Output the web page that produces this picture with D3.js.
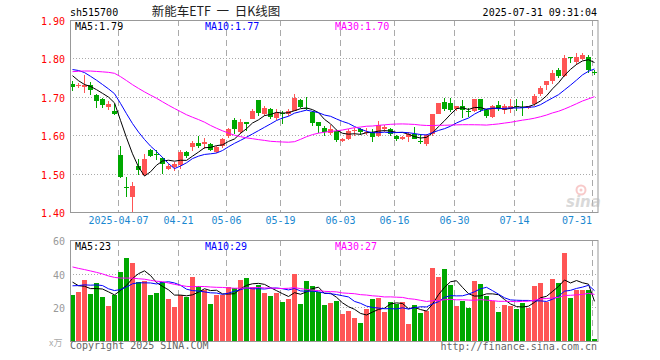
<!DOCTYPE html>
<html><head><meta charset="utf-8">
<script src="https://cdn.jsdelivr.net/npm/d3@7"></script>
<style>
body{margin:0;background:#fff}
svg{display:block}
text{font-family:"DejaVu Sans Mono","Liberation Mono",monospace;font-size:10px}
</style>
</head><body>
<script>
// ---------- DATA ----------
const dates = ["03-25","03-26","03-27","03-28","03-31","04-01","04-02","04-03",
"04-07","04-08","04-09","04-10","04-11","04-14","04-15","04-16","04-17","04-18",
"04-21","04-22","04-23","04-24","04-25","04-28","04-29","04-30",
"05-06","05-07","05-08","05-09","05-12","05-13","05-14","05-15","05-16",
"05-19","05-20","05-21","05-22","05-23","05-26","05-27","05-28","05-29","05-30",
"06-03","06-04","06-05","06-06","06-09","06-10","06-11","06-12","06-13",
"06-16","06-17","06-18","06-19","06-20","06-23","06-24","06-25","06-26","06-27",
"06-30","07-01","07-02","07-03","07-04","07-07","07-08","07-09","07-10","07-11",
"07-14","07-15","07-16","07-17","07-18","07-21","07-22","07-23","07-24","07-25",
"07-28","07-29","07-30","07-31"];

const open = [1.734,1.727,1.726,1.730,1.704,1.695,1.674,1.664,1.548,1.464,
1.439,1.519,1.496,1.561,1.551,1.540,1.512,1.516,1.522,1.557,
1.569,1.580,1.577,1.578,1.556,1.572,1.598,1.639,1.608,1.634,
1.643,1.691,1.654,1.667,1.644,1.658,1.654,1.664,1.691,1.670,
1.661,1.634,1.620,1.605,1.611,1.584,1.590,1.611,1.615,1.607,
1.609,1.597,1.615,1.615,1.598,1.590,1.596,1.602,1.584,1.576,
1.602,1.656,1.686,1.685,1.667,1.675,1.663,1.663,1.693,1.665,
1.648,1.678,1.665,1.667,1.676,1.674,1.672,1.680,1.708,1.732,
1.740,1.769,1.754,1.803,1.790,1.799,1.804,1.765];
const high = [1.740,1.735,1.757,1.738,1.708,1.698,1.689,1.681,1.572,1.490,
1.478,1.538,1.551,1.564,1.561,1.543,1.525,1.530,1.561,1.559,
1.585,1.597,1.592,1.580,1.573,1.593,1.619,1.645,1.643,1.634,
1.669,1.691,1.676,1.671,1.669,1.663,1.667,1.706,1.695,1.700,
1.663,1.634,1.624,1.627,1.614,1.593,1.616,1.620,1.618,1.619,
1.617,1.638,1.626,1.620,1.600,1.597,1.609,1.621,1.604,1.603,
1.656,1.685,1.698,1.698,1.677,1.691,1.671,1.695,1.693,1.667,
1.679,1.690,1.680,1.693,1.695,1.688,1.677,1.706,1.728,1.741,
1.770,1.776,1.809,1.804,1.815,1.815,1.810,1.770];
const low = [1.714,1.722,1.709,1.705,1.672,1.672,1.666,1.653,1.489,1.439,
1.400,1.497,1.494,1.543,1.535,1.499,1.509,1.507,1.512,1.541,
1.560,1.566,1.563,1.558,1.554,1.567,1.593,1.602,1.602,1.612,
1.641,1.650,1.650,1.643,1.639,1.628,1.650,1.663,1.672,1.665,
1.624,1.606,1.599,1.601,1.583,1.581,1.588,1.597,1.600,1.600,
1.583,1.596,1.609,1.597,1.585,1.587,1.583,1.589,1.577,1.572,
1.598,1.654,1.664,1.660,1.664,1.645,1.648,1.660,1.660,1.645,
1.645,1.663,1.654,1.657,1.663,1.651,1.669,1.677,1.703,1.719,
1.734,1.750,1.752,1.789,1.784,1.797,1.763,1.758];
const close = [1.726,1.730,1.731,1.718,1.688,1.678,1.681,1.656,1.490,1.462,
1.469,1.509,1.538,1.545,1.548,1.524,1.519,1.526,1.557,1.546,
1.579,1.572,1.583,1.561,1.569,1.589,1.617,1.615,1.634,1.629,
1.664,1.658,1.670,1.648,1.658,1.654,1.663,1.696,1.674,1.668,
1.632,1.624,1.608,1.616,1.588,1.589,1.612,1.614,1.608,1.609,
1.596,1.626,1.621,1.602,1.591,1.596,1.602,1.591,1.583,1.600,
1.654,1.684,1.667,1.666,1.675,1.665,1.662,1.693,1.665,1.651,
1.677,1.669,1.676,1.676,1.673,1.672,1.676,1.703,1.722,1.740,
1.763,1.754,1.800,1.800,1.804,1.809,1.770,1.763];
// volume, 万手
const volume = [27.6,29.2,36.4,28,34.6,26.2,20.8,27.4,41.2,49.6,
46.6,35.2,35.8,27.4,28.6,35.2,25,20.2,27.4,26.4,
38.2,32.8,30.4,22,27.4,27.4,32.2,31.6,36.4,37.6,
32.2,33.4,28.6,26.8,28.6,23.2,25,40,22,35.8,
32.8,29.2,21.4,22.7,23.8,16.2,17.8,13.6,10.6,19,
25,25.6,17.2,23.2,22.2,23.2,10,21.4,16.6,17.8,
43.6,38.2,43,33.4,20.8,23.8,19.6,35.8,34,26.8,
23.8,17.2,21.4,20.8,19,22.6,19.6,32.8,34.5,23.2,
37,34.6,52,25.6,30.4,30.4,30.4,1];
// estimated sessions before the visible window (feed the moving averages)
const priorClose = [1.70,1.71,1.72,1.72,1.71,1.72,1.73,
1.75,1.77,1.79,1.80,1.81,1.80,1.79,1.80,1.79,1.78,1.80,1.79,1.774,
1.755,1.785,1.815,1.79,1.79,1.795,1.781,1.743,1.730];
const priorVolume = [55,58,52,60,54,57,53,52.8,
50,48,46,44,47,45,43,48,46,44,45,44.2,
28,32,30,33,30,40,38,35,34.4];

const priceTicks = [1.40,1.50,1.60,1.70,1.80,1.90];
const volumeTicks = [20,40,60];
const tickDates = ["04-07","04-21","05-06","05-19","06-03","06-16","06-30","07-14","07-31"];
const tickLabels = ["2025-04-07","04-21","05-06","05-19","06-03","06-16","06-30","07-14","07-31"];
const maPeriods = [5,10,30];
const maColors = ["#000000","#0000ff","#ff00ff"];

// ---------- CHART ----------
const W = 660, H = 360;
const L = 70, R = 598;
const RED = "#ff5555", GREEN = "#00a800", GRID = "#aaaaaa", BORDER = "#999999";

const svg = d3.select("body").append("svg").attr("width", W).attr("height", H);

const x = d3.scaleBand().domain(dates).range([L - 0.5, R - 0.5])
  .paddingInner(1/6).paddingOuter(1/12);
const bw = x.bandwidth();
const y = d3.scaleLinear().domain([1.40, 1.90]).range([212, 20]);
const yv = d3.scaleLinear().domain([0, 60]).range([341, 240]);

function movingAvg(prior, vals, n) {
  const all = prior.concat(vals), off = prior.length;
  return vals.map((_, i) => d3.mean(all.slice(off + i - n + 1, off + i + 1)));
}
const priceMA = maPeriods.map(n => movingAvg(priorClose, close, n));
const volMA = maPeriods.map(n => movingAvg(priorVolume, volume, n));

// gridlines
function grid(g, yScale, hTicks, top, bottom) {
  g.selectAll("line.h").data(hTicks).join("line")
    .attr("x1", L).attr("x2", R)
    .attr("y1", d => Math.round(yScale(d)) + 0.5).attr("y2", d => Math.round(yScale(d)) + 0.5)
    .attr("stroke", GRID).attr("stroke-dasharray", "1,2");
  g.selectAll("line.v").data(tickDates).join("line")
    .attr("x1", d => Math.round(x(d)) + 0.5).attr("x2", d => Math.round(x(d)) + 0.5)
    .attr("y1", top).attr("y2", bottom)
    .attr("stroke", GRID).attr("stroke-dasharray", "6,4");
}
grid(svg.append("g"), y, [1.50,1.60,1.70,1.80], 20, 212);
grid(svg.append("g"), yv, [20,40], 240, 341);

// candles
const cg = svg.append("g").attr("shape-rendering", "crispEdges");
const cd = dates.map((d, i) => ({d, o: open[i], h: high[i], l: low[i], c: close[i]}));
cg.selectAll("rect.w").data(cd).join("rect")
  .attr("x", p => x(p.d) + Math.floor(bw / 2))
  .attr("y", p => y(p.h)).attr("width", 1)
  .attr("height", p => Math.max(1, y(p.l) - y(p.h)))
  .attr("fill", p => p.c >= p.o ? RED : GREEN);
cg.selectAll("rect.b").data(cd).join("rect")
  .attr("x", p => x(p.d)).attr("width", bw)
  .attr("y", p => y(Math.max(p.o, p.c)))
  .attr("height", p => Math.max(1, Math.abs(y(p.o) - y(p.c))))
  .attr("fill", p => p.c >= p.o ? RED : GREEN);

// volume bars
svg.append("g").attr("shape-rendering", "crispEdges")
  .selectAll("rect").data(cd).join("rect")
  .attr("x", p => x(p.d)).attr("width", bw)
  .attr("y", (p, i) => yv(volume[i]))
  .attr("height", (p, i) => yv(0) - yv(volume[i]))
  .attr("fill", p => p.c >= p.o ? RED : GREEN);

// MA lines
const cx = i => x(dates[i]) + bw / 2;
maPeriods.forEach((n, k) => {
  svg.append("path").datum(priceMA[k])
    .attr("d", d3.line().x((v, i) => cx(i)).y(v => y(v)))
    .attr("fill", "none").attr("stroke", maColors[k]).attr("stroke-width", 1);
  svg.append("path").datum(volMA[k])
    .attr("d", d3.line().x((v, i) => cx(i)).y(v => yv(v)))
    .attr("fill", "none").attr("stroke", maColors[k]).attr("stroke-width", 1);
});

// borders
[[20, 212], [240, 341]].forEach(([t, b]) => {
  svg.append("rect").attr("x", L + 0.5).attr("y", t + 0.5)
    .attr("width", R - L - 0.5).attr("height", b - t)
    .attr("fill", "none").attr("stroke", BORDER);
});

// y axes
const ya = svg.append("g").attr("transform", `translate(${L},0)`)
  .call(d3.axisLeft(y).tickValues(priceTicks).tickSize(0).tickPadding(5).tickFormat(d3.format(".2f")));
ya.select(".domain").remove();
ya.selectAll("text").attr("fill", "#ff0000").style("font-size", "10px")
  .style("font-family", '"DejaVu Sans Mono",monospace').attr("dy", "0.45em");

const va = svg.append("g").attr("transform", `translate(${L},0)`)
  .call(d3.axisLeft(yv).tickValues(volumeTicks).tickSize(0).tickPadding(5));
va.select(".domain").remove();
va.selectAll("text").attr("fill", "#999999").style("font-size", "10px")
  .style("font-family", '"DejaVu Sans Mono",monospace').attr("dy", "0.45em");

// date labels
svg.append("g").selectAll("text").data(tickDates).join("text")
  .attr("x", (d, i) => {
    const w = tickLabels[i].length * 6.02;
    return Math.min(x(d) + 0.5, 592 - w / 2);
  })
  .attr("y", 224).attr("text-anchor", "middle").attr("fill", "#1a88d0")
  .text((d, i) => tickLabels[i]);

// legends
const legX = [75, 205, 335];
maPeriods.forEach((n, k) => {
  svg.append("text").attr("x", legX[k]).attr("y", 29.5).attr("fill", maColors[k])
    .text(`MA${n}:${priceMA[k][priceMA[k].length - 1].toFixed(2)}`);
  svg.append("text").attr("x", legX[k]).attr("y", 250).attr("fill", maColors[k])
    .text(`MA${n}:${Math.floor(volMA[k][volMA[k].length - 1])}`);
});

// header
svg.append("text").attr("x", 70).attr("y", 16).attr("fill", "#000").text("sh515700");
svg.append("text").attr("x", 597).attr("y", 16).attr("text-anchor", "end").attr("fill", "#000")
  .text("2025-07-31 09:31:04");
svg.append("text").attr("x", 216).attr("y", 16).attr("text-anchor", "middle")
  .attr("fill", "#222").style("font-family", '"Noto Sans CJK SC",sans-serif')
  .style("font-size", "12.5px").style("white-space", "pre")
  .text("新能车ETF  一  日K线图");

// footer
svg.append("text").attr("x", 49).attr("y", 346).attr("fill", "#aaaaaa")
  .style("font-family", '"Noto Sans CJK SC",sans-serif').style("font-size", "9px").text("x万");
svg.append("text").attr("x", 70).attr("y", 349).attr("fill", "#666").text("Copyright 2025 SINA.COM");
svg.append("text").attr("x", 597).attr("y", 350).attr("text-anchor", "end").attr("fill", "#666")
  .text("http://finance.sina.com.cn");

// sina watermark
const wm = svg.append("g").attr("opacity", 0.55);
wm.append("circle").attr("cx", 581).attr("cy", 190).attr("r", 4.5)
  .attr("fill", "none").attr("stroke", "#f3a0a0").attr("stroke-width", 2);
wm.append("circle").attr("cx", 581).attr("cy", 190).attr("r", 1.5).attr("fill", "#f3a0a0");
wm.append("text").attr("x", 566).attr("y", 207).attr("fill", "#bbbbbb")
  .style("font-family", "DejaVu Sans,sans-serif").style("font-size", "15px")
  .style("font-style", "italic").style("font-weight", "bold").text("sina");
</script>
</body></html>
